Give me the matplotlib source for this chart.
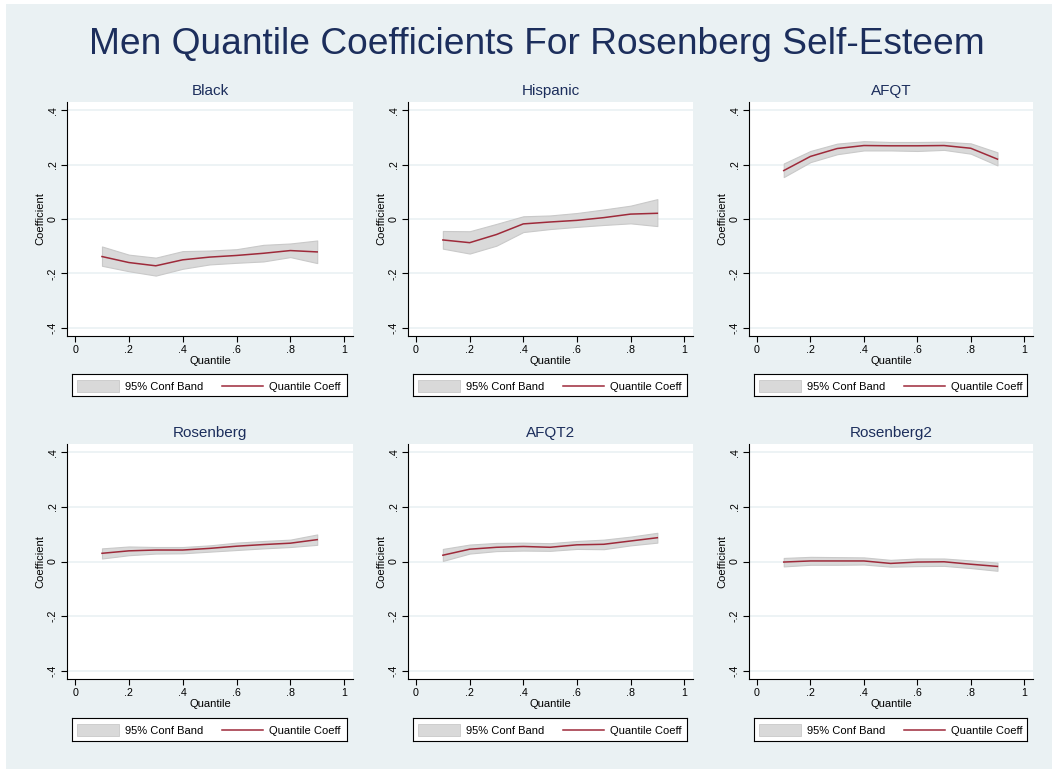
import matplotlib
matplotlib.use("Agg")
import matplotlib.pyplot as plt
from matplotlib.patches import Rectangle
from matplotlib.lines import Line2D

plt.rcParams['font.family'] = ['Liberation Sans', 'DejaVu Sans']

quantiles = [0.1, 0.2, 0.3, 0.4, 0.5, 0.6, 0.7, 0.8, 0.9]

panel_titles = ["Black", "Hispanic", "AFQT", "Rosenberg", "AFQT2", "Rosenberg2"]

black_coef = [-0.138, -0.160, -0.172, -0.150, -0.140, -0.134, -0.126, -0.116, -0.121]
black_upper = [-0.101, -0.131, -0.142, -0.118, -0.116, -0.111, -0.095, -0.090, -0.079]
black_lower = [-0.172, -0.192, -0.208, -0.183, -0.167, -0.161, -0.156, -0.140, -0.162]

hisp_coef = [-0.077, -0.087, -0.057, -0.018, -0.011, -0.005, 0.005, 0.018, 0.021]
hisp_upper = [-0.044, -0.045, -0.018, 0.010, 0.013, 0.022, 0.035, 0.049, 0.073]
hisp_lower = [-0.109, -0.127, -0.098, -0.048, -0.037, -0.029, -0.022, -0.016, -0.026]

afqt_coef = [0.178, 0.230, 0.259, 0.270, 0.269, 0.269, 0.270, 0.260, 0.220]
afqt_upper = [0.204, 0.250, 0.277, 0.286, 0.283, 0.283, 0.284, 0.278, 0.245]
afqt_lower = [0.154, 0.209, 0.238, 0.252, 0.252, 0.250, 0.254, 0.240, 0.197]

ros_coef = [0.030, 0.039, 0.042, 0.042, 0.048, 0.056, 0.062, 0.067, 0.080]
ros_upper = [0.048, 0.055, 0.053, 0.053, 0.059, 0.069, 0.075, 0.080, 0.099]
ros_lower = [0.011, 0.023, 0.029, 0.030, 0.036, 0.042, 0.048, 0.053, 0.061]

afqt2_coef = [0.023, 0.045, 0.052, 0.055, 0.052, 0.061, 0.063, 0.075, 0.087]
afqt2_upper = [0.046, 0.062, 0.068, 0.069, 0.067, 0.075, 0.080, 0.091, 0.105]
afqt2_lower = [0.002, 0.029, 0.038, 0.040, 0.039, 0.046, 0.045, 0.059, 0.069]

ros2_coef = [-0.002, 0.002, 0.002, 0.002, -0.007, -0.002, -0.001, -0.010, -0.018]
ros2_upper = [0.013, 0.017, 0.016, 0.015, 0.006, 0.011, 0.011, 0.004, -0.004]
ros2_lower = [-0.018, -0.012, -0.012, -0.011, -0.019, -0.017, -0.016, -0.024, -0.034]

coefs = [black_coef, hisp_coef, afqt_coef, ros_coef, afqt2_coef, ros2_coef]
uppers = [black_upper, hisp_upper, afqt_upper, ros_upper, afqt2_upper, ros2_upper]
lowers = [black_lower, hisp_lower, afqt_lower, ros_lower, afqt2_lower, ros2_lower]

x_ticks = [0, 0.2, 0.4, 0.6, 0.8, 1.0]
x_ticklabels = ["0", ".2", ".4", ".6", ".8", "1"]
y_ticks = [-0.4, -0.2, 0, 0.2, 0.4]
y_ticklabels = ["-.4", "-.2", "0", ".2", ".4"]

main_title = "Men Quantile Coefficients For Rosenberg Self-Esteem"
legend_labels = ["95% Conf Band", "Quantile Coeff"]

W, H = 1052, 769
BG = '#EAF1F3'
NAVY = '#1C2E5C'
LINE = '#9E2A3A'
BAND = '#D9D9D9'
BAND_EDGE = '#C9C9C9'

fig = plt.figure(figsize=(W / 100, H / 100), dpi=100)
fig.patch.set_facecolor('white')
fig.add_artist(Rectangle((6 / W, 0), 1 - 6 / W, 1 - 4 / H, transform=fig.transFigure,
                         facecolor=BG, edgecolor='none', zorder=-10))

def frac(l, t, r, b):
    return [l / W, 1 - b / H, (r - l) / W, (b - t) / H]

cols = [(67, 353), (408, 693), (749, 1033)]
rows = [(102, 336), (444, 679)]
leg_rows = [(374, 396), (718, 741)]

fig.text(537 / W, 1 - 44 / H, main_title, ha='center', va='center', fontsize=26.7, color=NAVY)

for i in range(6):
    r, c = divmod(i, 3)
    l, rr = cols[c]
    t, b = rows[r]
    ax = fig.add_axes(frac(l, t, rr, b))
    ax.set_facecolor('white')
    ax.fill_between(quantiles, lowers[i], uppers[i], facecolor=BAND, edgecolor=BAND_EDGE,
                    linewidth=0.8, zorder=2)
    ax.plot(quantiles, coefs[i], color=LINE, linewidth=1.1, zorder=3)
    ax.set_xlim(-0.03, 1.033)
    ax.set_ylim(-0.43, 0.43)
    ax.set_yticks(y_ticks)
    ax.set_yticklabels(y_ticklabels, rotation=90, va='center')
    ax.set_xticks(x_ticks)
    ax.set_xticklabels(x_ticklabels)
    ax.grid(axis='y', color=BG, linewidth=1.2, zorder=1)
    ax.set_axisbelow(True)
    for s in ['top', 'right']:
        ax.spines[s].set_visible(False)
    for s in ['left', 'bottom']:
        ax.spines[s].set_color('black')
        ax.spines[s].set_linewidth(0.8)
    ax.tick_params(axis='both', direction='out', length=4.5, width=0.8, labelsize=7.7,
                   colors='black', pad=2)
    ax.set_title(panel_titles[i], fontsize=11, color=NAVY, pad=5)
    ax.set_xlabel("Quantile", fontsize=8, labelpad=1)
    ax.set_ylabel("Coefficient", fontsize=8, labelpad=2)

    # legend box
    lt, lb = leg_rows[r]
    ll, lr = l + 5, rr - 6
    lax = fig.add_axes(frac(ll, lt, lr, lb))
    lax.set_xlim(0, lr - ll)
    lax.set_ylim(0, lb - lt)
    lax.set_xticks([])
    lax.set_yticks([])
    lax.set_facecolor('white')
    for s in lax.spines.values():
        s.set_color('black')
        s.set_linewidth(0.8)
    hh = lb - lt
    lax.add_patch(Rectangle((5, hh / 2 - 6.5), 42, 12, facecolor=BAND, edgecolor=BAND_EDGE, linewidth=0.6))
    lax.text(53, hh / 2 - 0.5, legend_labels[0], ha='left', va='center_baseline', fontsize=8)
    lax.add_line(Line2D([150, 191], [hh / 2 - 0.5, hh / 2 - 0.5], color=LINE, linewidth=1.1))
    lax.text(197, hh / 2 - 0.5, legend_labels[1], ha='left', va='center_baseline', fontsize=8)

fig.savefig("out.png", dpi=100, facecolor=fig.get_facecolor())
